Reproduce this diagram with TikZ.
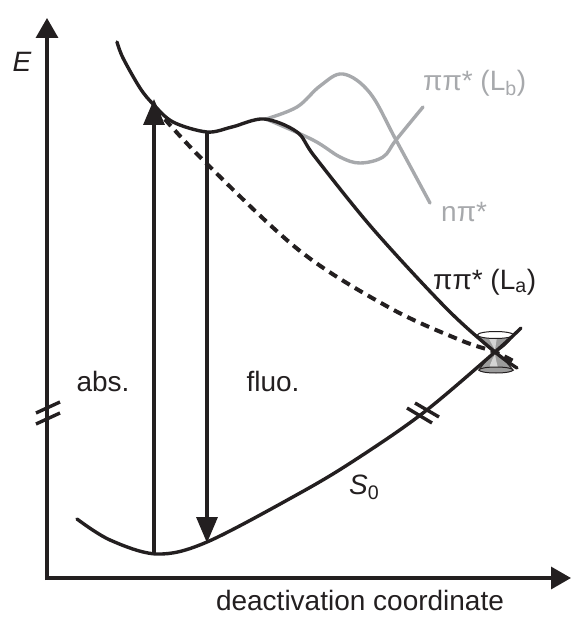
\documentclass[tikz,border=0pt]{standalone}
\usepackage{fontspec}
\setmainfont{Liberation Sans}
\usetikzlibrary{arrows.meta}
\definecolor{ink}{HTML}{231F20}
\definecolor{lgray}{HTML}{A7A9AC}
\definecolor{conegray}{HTML}{9C9C9C}
\definecolor{conelight}{HTML}{D4D4D4}
\tikzset{
  curve/.style={line width=3.4pt, ink, line cap=round},
  graycurve/.style={line width=3.4pt, lgray, line cap=round},
  dashcurve/.style={line width=4pt, ink, dash pattern=on 9pt off 6pt},
  axisline/.style={line width=3.4pt, ink, -{Triangle[length=20pt,width=22pt]}},
  transarrow/.style={line width=3.4pt, ink, -{Triangle[length=26pt,width=21pt]}},
  breakmark/.style={line width=3.4pt, ink},
  conefill/.style={fill=conegray, draw=ink, line width=1pt},
  lbl/.style={font=\fontsize{28}{32}\selectfont, text=ink, inner sep=0pt},
  glbl/.style={font=\fontsize{28}{32}\selectfont, text=lgray, inner sep=0pt}
}
\begin{document}
\begin{tikzpicture}[x=1pt,y=-1pt]
\useasboundingbox (0,0) rectangle (571,617);
% conical intersection
\path[conefill]
  (477,335) .. controls (484,345) and (490,350) .. (495,352) .. controls (500,350) and (507,345) .. (514,335) -- cycle;
\path[conefill]
  (479,370) .. controls (486,360) and (491,355) .. (495,352) .. controls (499,355) and (505,360) .. (513,370) -- cycle;
\fill[conelight] (488,337) .. controls (491,344) .. (495,350) .. controls (496,344) .. (497,337) -- cycle;
\fill[conelight] (489,368) .. controls (492,360) .. (495,354) .. controls (496,360) .. (498,368) -- cycle;
\draw[ink, line width=1pt, fill=white] (495.5,335) ellipse [x radius=18pt, y radius=3.5pt];
\draw[ink, line width=1pt, fill=conegray] (496,370) ellipse [x radius=17pt, y radius=3pt];
% axes
\coordinate (origin) at (47,578);
\coordinate (ytip) at (47,18);
\coordinate (xtip) at (571,578);
\draw[axisline] (47,580) -- (ytip);
\draw[axisline] (45.3,578) -- (xtip);
\draw[breakmark] (36,413) -- (60,402);
\draw[breakmark] (36,424) -- (60,413);
% gray curves
\draw[graycurve] plot[smooth, tension=0.6] coordinates {(266,119) (297,107) (320,86) (343,74) (370,93) (396,140) (430,203)};
\draw[graycurve] plot[smooth, tension=0.6] coordinates {(266,119) (313,140) (340,157) (360,163) (383,157) (396,140) (423,107)};
% upper (La) curve
\draw[curve] plot[smooth, tension=0.55] coordinates {(117,42) (123,58) (140,88) (153,104) (173,122) (207,132) (232,127) (264,119) (297,132) (315,157) (373,229) (447,309) (495,352) (517,368)};
% dashed curve
\draw[dashcurve] plot[smooth, tension=0.55] coordinates {(155,108) (203,160) (300,251) (390,308) (460,340) (495,352) (515,362)};
% S0 curve
\draw[curve] plot[smooth, tension=0.55] coordinates {(77,519) (110,540) (157,554) (207,542) (300,493) (355,460) (423,413) (495,352) (521,328)};
\draw[breakmark] (407,408) -- (432,423);
\draw[breakmark] (415,403) -- (439,417);
% transitions
\coordinate (absfrom) at (154,554);
\coordinate (absto) at (154,99);
\coordinate (fluofrom) at (207,132);
\coordinate (fluoto) at (207,543);
\draw[transarrow] (absfrom) -- (absto);
\draw[transarrow] (fluofrom) -- (fluoto);
% labels
\node[lbl] (E) at (22,62) {\textit{E}};
\node[lbl] (xl) at (360,600) {deactivation coordinate};
\node[lbl] (abs) at (103,381) {abs.};
\node[lbl] (fluo) at (273,381) {fluo.};
\node[lbl, anchor=west] (La) at (433,282) {ππ* (L\textsubscript{a})};
\node[glbl, anchor=west] (Lb) at (423,83) {ππ* (L\textsubscript{b})};
\node[glbl, anchor=west] (npi) at (441,212) {nπ*};
\node[lbl, anchor=west] (S0) at (349,487) {\textit{S}\textsubscript{0}};
\end{tikzpicture}
\end{document}
